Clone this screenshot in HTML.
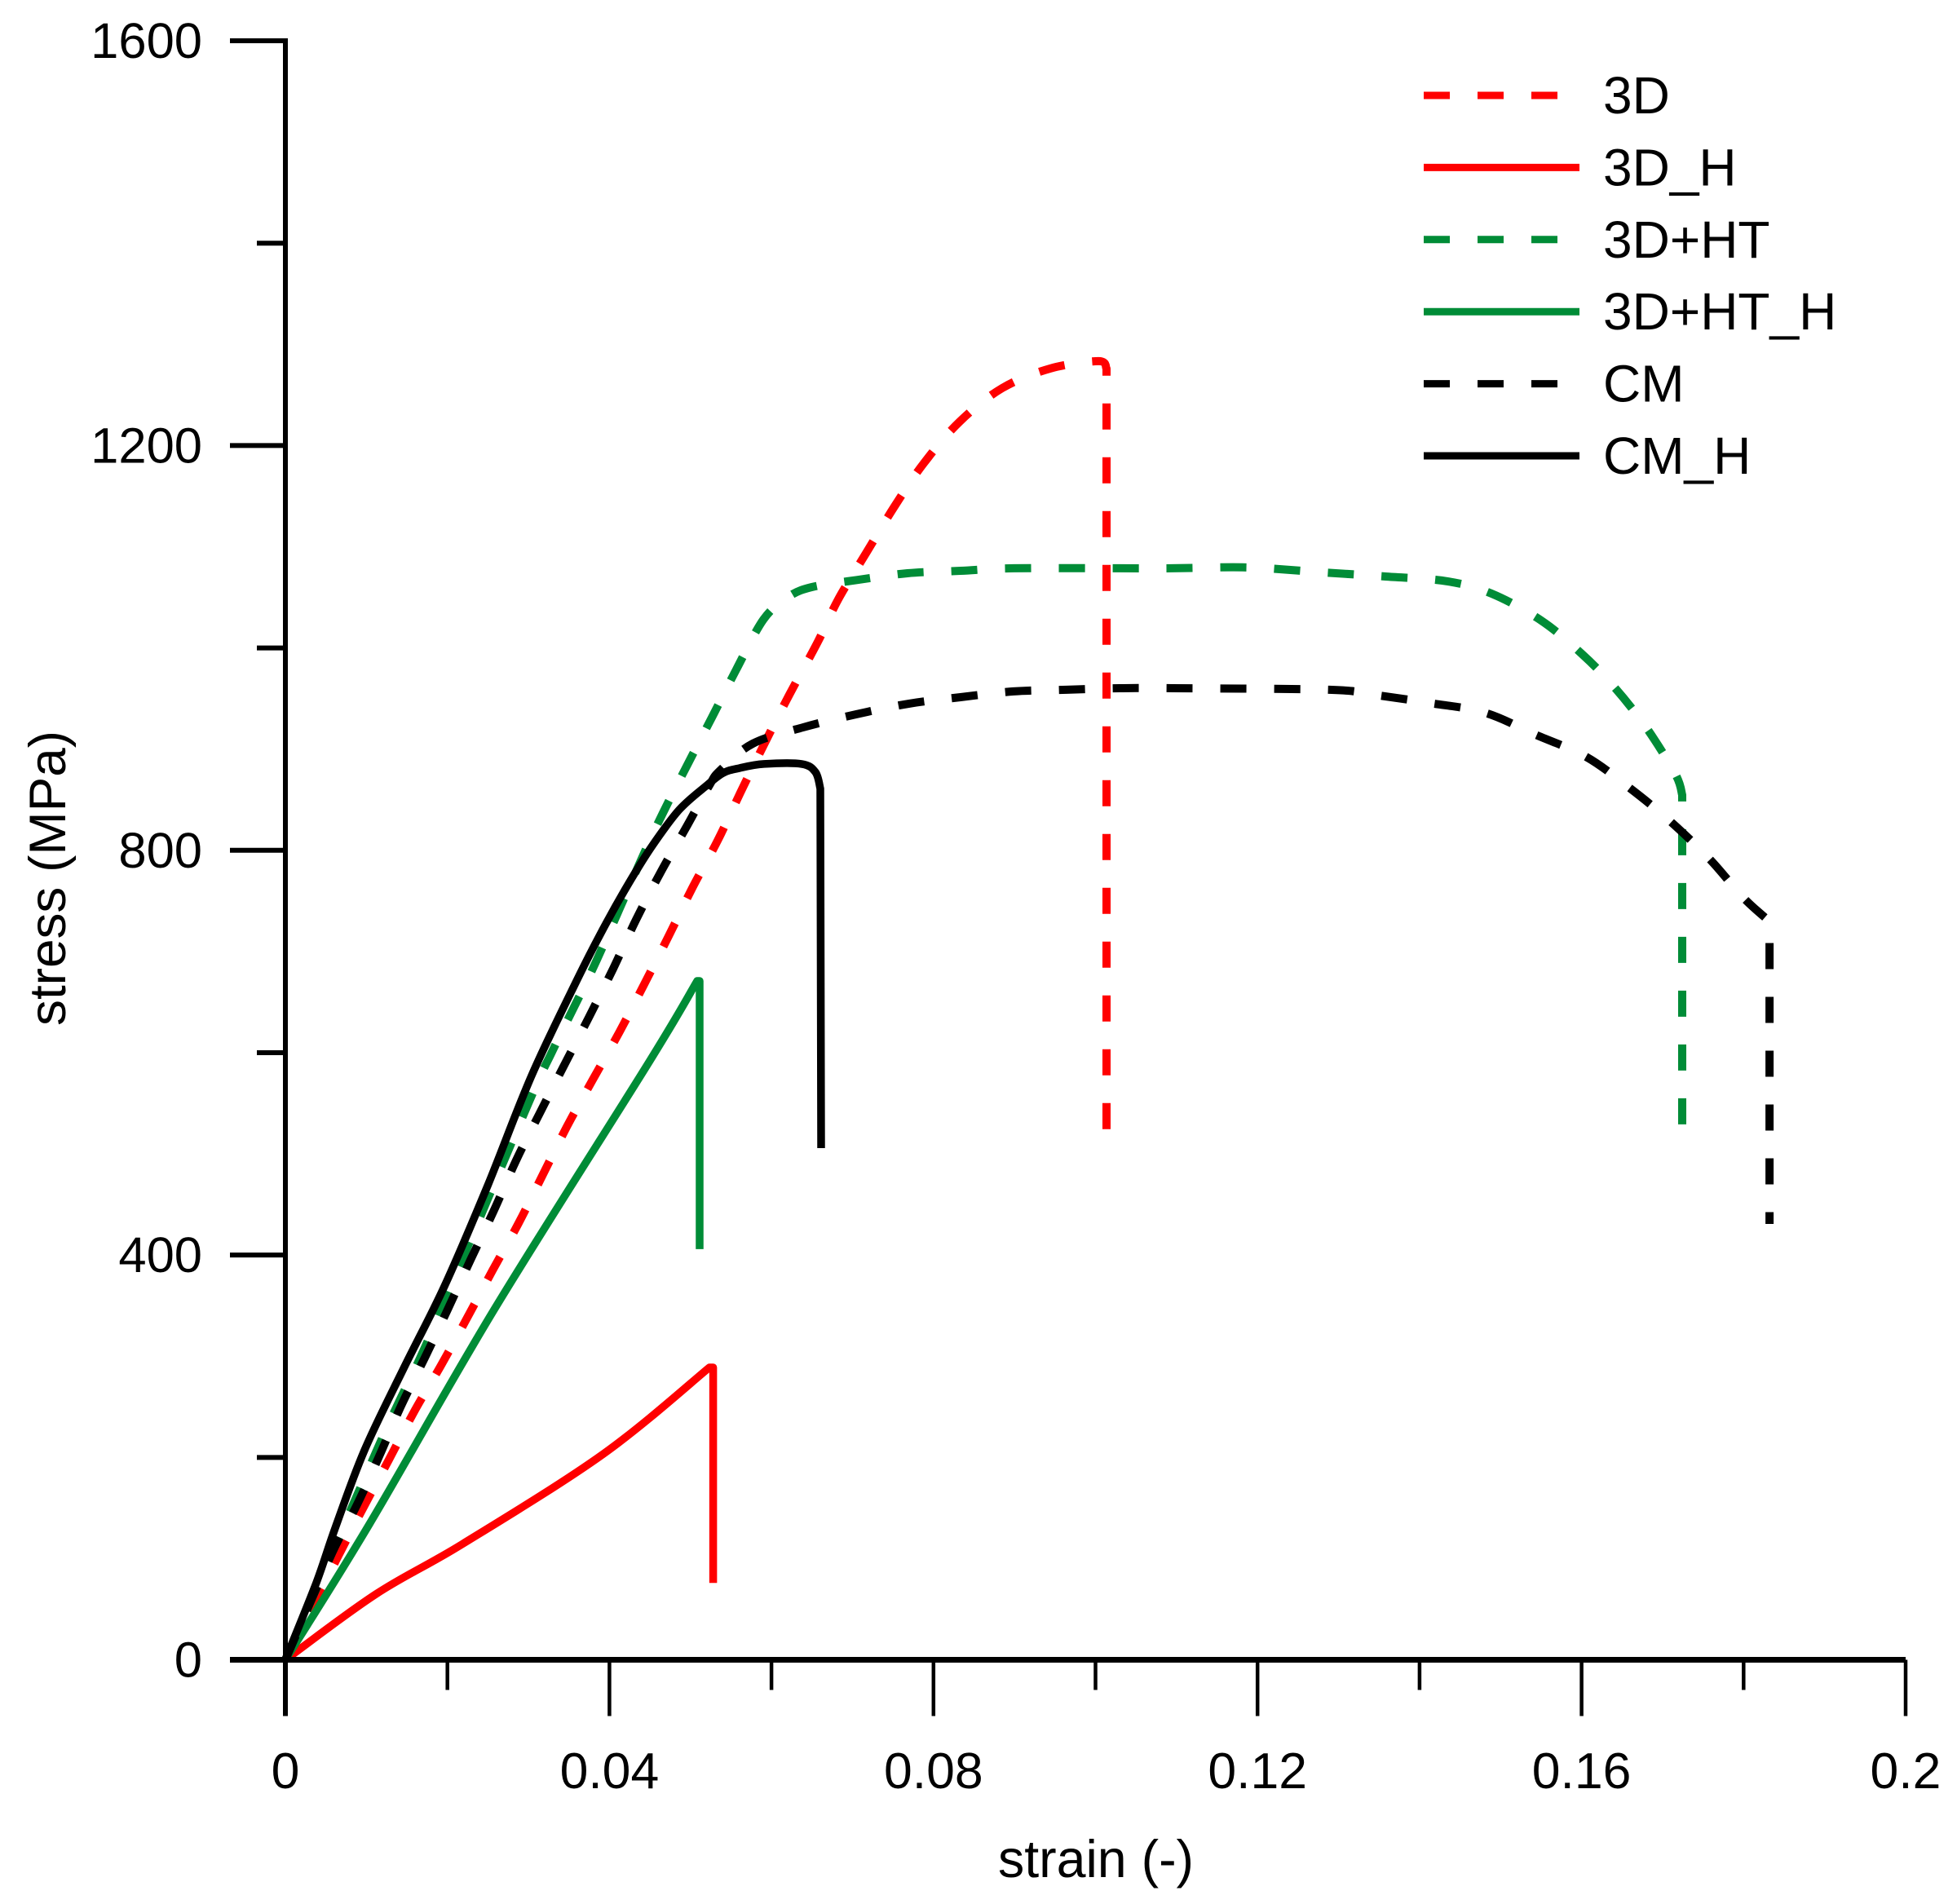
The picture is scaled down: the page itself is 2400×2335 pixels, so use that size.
<!DOCTYPE html>
<html>
<head>
<meta charset="utf-8">
<title>Stress-strain chart</title>
<style>
html,body{margin:0;padding:0;background:#fff;}
svg{display:block;}
text{font-family:"Liberation Sans",Arial,sans-serif;fill:#000;}
</style>
</head>
<body>
<svg id="chart" xmlns="http://www.w3.org/2000/svg" width="2400" height="2335" viewBox="0 0 2400 2335">
  <rect x="0" y="0" width="2400" height="2335" fill="#fff"/>
  <g id="series"></g>
  <g id="axes"></g>
  <g id="legend"></g>
  <text x="1344" y="2302" font-size="64.5" text-anchor="middle">strain (-)</text>
  <text transform="translate(80,1077) rotate(-90)" font-size="63" text-anchor="middle" textLength="362" lengthAdjust="spacingAndGlyphs">stress (MPa)</text>
</svg>
<script>
var xTickValues = [0, 0.04, 0.08, 0.12, 0.16, 0.2];
var xTickLabels = ['0', '0.04', '0.08', '0.12', '0.16', '0.2'];
var xMinorTickValues = [0.02, 0.06, 0.1, 0.14, 0.18];
var yTickValues = [0, 400, 800, 1200, 1600];
var yTickLabels = ['0', '400', '800', '1200', '1600'];
var yMinorTickValues = [200, 600, 1000, 1400];

var seriesNames = ['3D', '3D_H', '3D+HT', '3D+HT_H', 'CM', 'CM_H'];

var strain3D = [0, .00654, .00956, .01278, .0159, .01912, .0224, .02557, .02879, .03176, .03473, .03795, .04127, .04429, .04731, .05023, .05335, .05617, .05918, .0622, .06573, .06824, .07177, .07519, .07881, .08324, .08848, .09441, .10035, .10136, .10136];
var stress3D = [0, 102.8, 149.5, 197.8, 245.4, 289.7, 337.3, 384.8, 431.5, 479.1, 526.6, 573.4, 620.9, 667.6, 715.2, 762.7, 809.5, 857, 906.2, 953.7, 1006.1, 1048, 1094.8, 1139.9, 1182.6, 1223.7, 1256.7, 1276.1, 1283.4, 1276, 520.2];

var strain3DH = [0, .01117, .02194, .03926, .05234, .0528, .0528];
var stress3DH = [0, 64.9, 114.8, 203.5, 288.9, 288.9, 76];

var strain3DHT = [0, .01117, .01384, .01671, .01943, .03, .03291, .03553, .03845, .04399, .0466, .04962, .05264, .05566, .05900, .06200, .06492, .07046, .0768, .08334, .08988, .10297, .10941, .11887, .12803, .13578, .14343, .14887, .15501, .16004, .16407, .16809, .17161, .17242, .17242];
var stress3DHT = [0, 205, 251.8, 299.7, 350.2, 550, 600.8, 643.5, 691.8, 791.8, 836.9, 884.5, 931.2, 978.7, 1028, 1050, 1060, 1067, 1073.8, 1076.2, 1078.7, 1078.7, 1078.7, 1079.5, 1074.6, 1070.6, 1065.8, 1053.7, 1027.1, 994, 961, 920, 874.8, 854.6, 502.5];

var strain3DHTH = [0, .01037, .02577, .04504, .05083, .05113, .05113];
var stress3DHTH = [0, 134, 346, 592.7, 670.9, 670.9, 405.8];

var strainCM = [0, .00574, .00886, .01158, .01419, .01721, .02003, .0229, .02567, .02849, .0314, .03422, .03744, .04046, .04328, .0463, .04962, .05234, .05365, .05768, .06392, .07046, .077, .08334, .08988, .09643, .10297, .10951, .12884, .13427, .14112, .14806, .1543, .16054, .16588, .17091, .17584, .17997, .1832, .1832];
var stressCM = [0, 105.2, 153.5, 201.1, 249.4, 298.6, 346.1, 396.1, 442.8, 493.6, 540.3, 584.6, 634.6, 683, 731.3, 778, 824.8, 864.3, 878.8, 905.4, 921.5, 934.4, 944.9, 951.3, 957, 958.6, 960.2, 960.2, 958.6, 953.8, 945.7, 936, 914.3, 892.5, 861.9, 828.9, 791, 753.1, 729.7, 430.7];

var strainCMH = [0, .00382, .00614, .00976, .0146, .01963, .02501, .0304, .03624, .03956, .04258, .0453, .04862, .05204, .05405, .05606, .05908, .06371, .06543, .06603, .06613];
var stressCMH = [0, 76.2, 130.1, 207.1, 288.1, 369.1, 469.4, 577.4, 675.7, 727.3, 770, 804.7, 840.1, 864.3, 876.4, 881.2, 885.3, 885.3, 877.2, 861, 505.7];

var SVGNS = 'http://www.w3.org/2000/svg';
var X0 = 350, X1 = 2337, Y0 = 2035.5, Y1 = 50;
function xScale(v) { return X0 + (v / 0.2) * (X1 - X0); }
function yScale(v) { return Y0 - (v / 1600) * (Y0 - Y1); }

function make(tag, attrs, parent) {
  var el = document.createElementNS(SVGNS, tag);
  for (var k in attrs) el.setAttribute(k, attrs[k]);
  parent.appendChild(el);
  return el;
}

var axes = document.getElementById('axes');
var seriesGroup = document.getElementById('series');
var legend = document.getElementById('legend');

function isSharp(xs, i) { return Math.abs(xs[i + 1] - xs[i]) < 0.0006; }

function smoothPath(xs, ys) {
  var px = xs.map(xScale), py = ys.map(yScale);
  var d = 'M' + px[0].toFixed(1) + ' ' + py[0].toFixed(1);
  for (var i = 0; i < px.length - 1; i++) {
    if (isSharp(xs, i)) {
      d += ' L' + px[i + 1].toFixed(1) + ' ' + py[i + 1].toFixed(1);
      continue;
    }
    var hasPrev = i > 0 && !isSharp(xs, i - 1);
    var hasNext = i < px.length - 2 && !isSharp(xs, i + 1);
    var ax = hasPrev ? px[i - 1] : px[i], ay = hasPrev ? py[i - 1] : py[i];
    var bx = hasNext ? px[i + 2] : px[i + 1], by = hasNext ? py[i + 2] : py[i + 1];
    var c1x = px[i] + (px[i + 1] - ax) / 6, c1y = py[i] + (py[i + 1] - ay) / 6;
    var c2x = px[i + 1] - (bx - px[i]) / 6, c2y = py[i + 1] - (by - py[i]) / 6;
    d += ' C' + c1x.toFixed(1) + ' ' + c1y.toFixed(1) + ' ' + c2x.toFixed(1) + ' ' + c2y.toFixed(1) + ' ' + px[i + 1].toFixed(1) + ' ' + py[i + 1].toFixed(1);
  }
  return d;
}

function drawSeries(xs, ys, color, dashed, name) {
  var attrs = { d: smoothPath(xs, ys), fill: 'none', stroke: color, 'stroke-width': dashed ? 10 : 9.5, 'stroke-linejoin': 'round' };
  if (dashed) attrs['stroke-dasharray'] = '32 34';
  var el = make('path', attrs, seriesGroup);
  
  
}

var RED = '#ff0000', GREEN = '#008c37', BLACK = '#000000';
drawSeries(strain3D, stress3D, RED, true, 'series-3d');
drawSeries(strain3DH, stress3DH, RED, false, 'series-3d-h');
drawSeries(strain3DHT, stress3DHT, GREEN, true, 'series-3d-ht');
drawSeries(strain3DHTH, stress3DHTH, GREEN, false, 'series-3d-ht-h');
drawSeries(strainCM, stressCM, BLACK, true, 'series-cm');
drawSeries(strainCMH, stressCMH, BLACK, false, 'series-cm-h');

var xAxisLine = make('line', { x1: X0 - 68, x2: X1, y1: Y0, y2: Y0, stroke: '#000', 'stroke-width': 7 }, axes);


var yAxisLine = make('line', { x1: X0, x2: X0, y1: Y1 - 3, y2: Y0 + 69, stroke: '#000', 'stroke-width': 6 }, axes);



xTickValues.forEach(function (v, i) {
  var px = xScale(v);
  var t = make('line', { x1: px, x2: px, y1: Y0, y2: Y0 + 69, stroke: '#000', 'stroke-width': 4.5 }, axes);
  
  
  var l = make('text', { x: px, y: 2193, 'font-size': 62.5, 'text-anchor': 'middle' }, axes);
  l.textContent = xTickLabels[i];
  
  
});
xMinorTickValues.forEach(function (v) {
  var px = xScale(v);
  var t = make('line', { x1: px, x2: px, y1: Y0, y2: Y0 + 37, stroke: '#000', 'stroke-width': 4.5 }, axes);
  
  
});
yTickValues.forEach(function (v, i) {
  var py = yScale(v);
  var t = make('line', { x1: X0 - 68, x2: X0, y1: py, y2: py, stroke: '#000', 'stroke-width': 6 }, axes);
  
  
  var l = make('text', { x: 248, y: py + 21, 'font-size': 61.5, 'text-anchor': 'end' }, axes);
  l.textContent = yTickLabels[i];
  
  
});
yMinorTickValues.forEach(function (v) {
  var py = yScale(v);
  var t = make('line', { x1: X0 - 35, x2: X0, y1: py, y2: py, stroke: '#000', 'stroke-width': 6 }, axes);
  
  
});

var legendColors = [RED, RED, GREEN, GREEN, BLACK, BLACK];
seriesNames.forEach(function (name, i) {
  var rowY = 117 + i * 88.4;
  var dashed = i % 2 === 0;
  var attrs = { x1: 1746, x2: dashed ? 1910 : 1937, y1: rowY, y2: rowY, stroke: legendColors[i], 'stroke-width': 9 };
  if (dashed) attrs['stroke-dasharray'] = '32 34';
  var sw = make('line', attrs, legend);
  
  
  var lb = make('text', { x: 1966, y: rowY + 22, 'font-size': 64 }, legend);
  lb.textContent = name;
  
  
});
</script>
</body>
</html>
